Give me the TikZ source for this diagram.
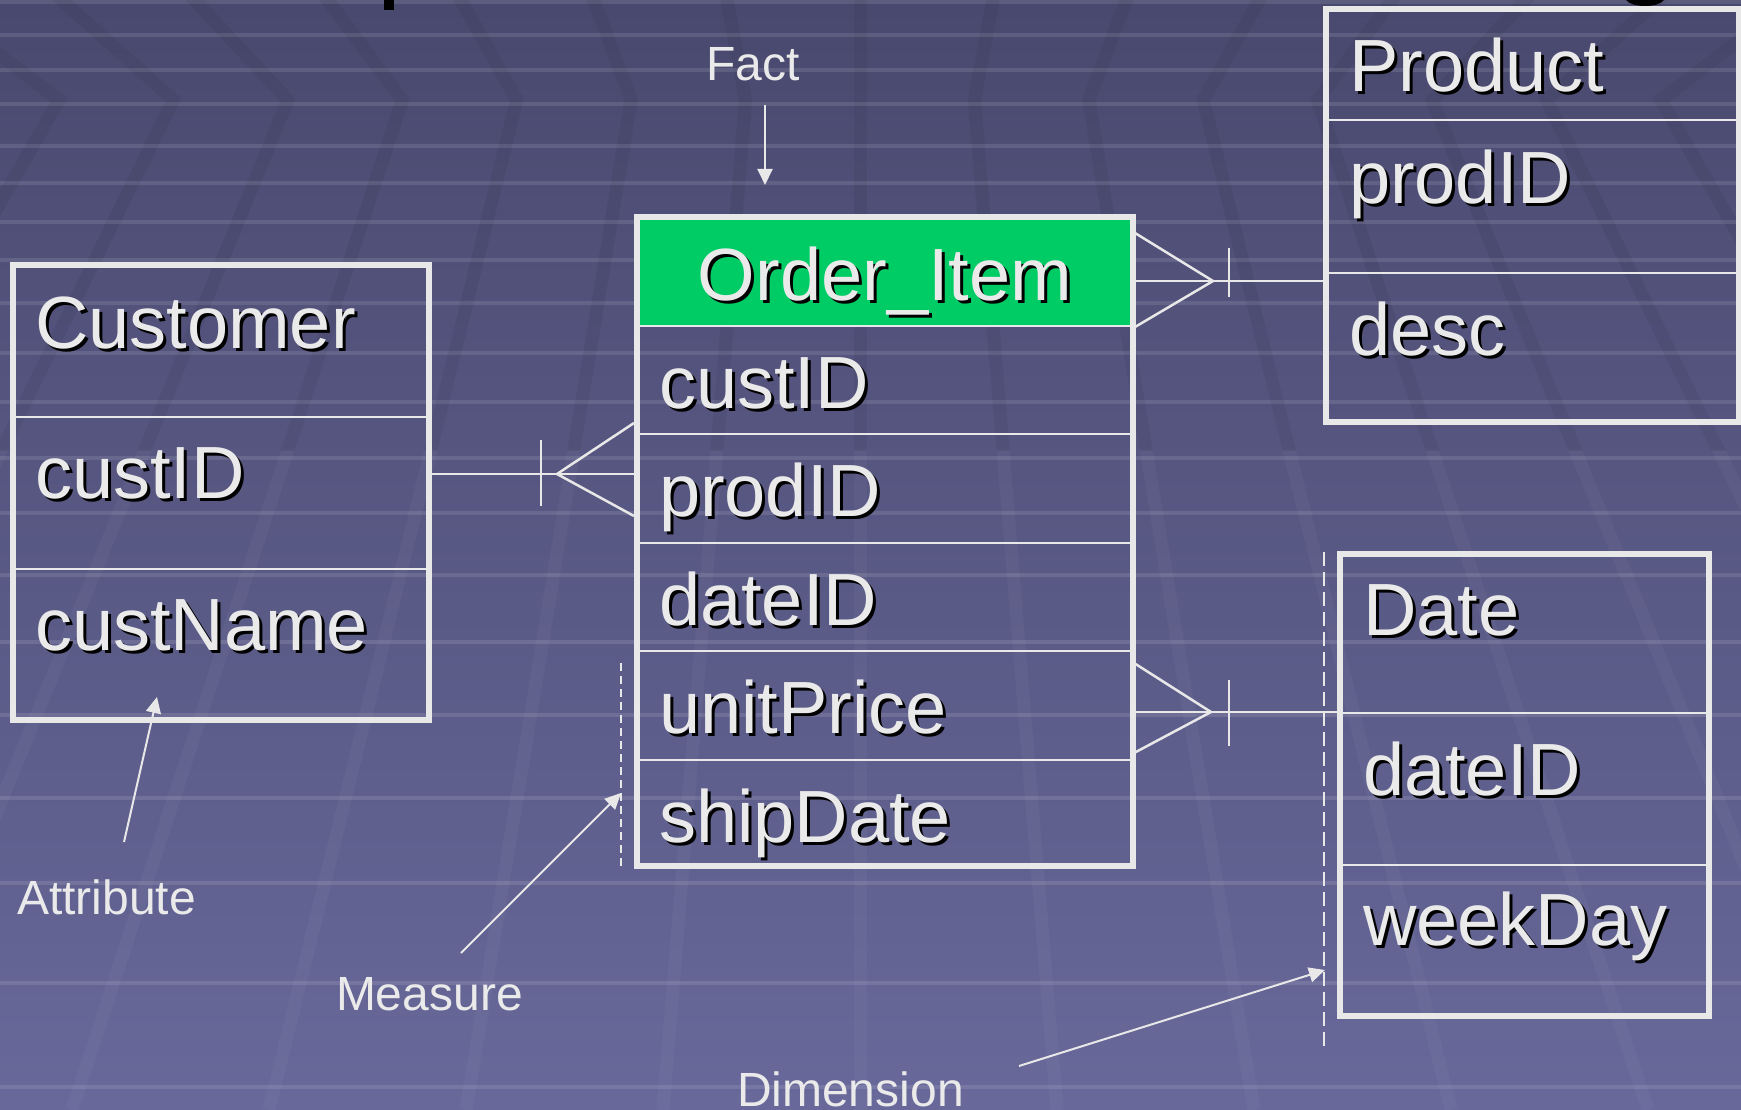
\documentclass[tikz,border=0pt]{standalone}
\usepackage{fontspec}
\setmainfont{Liberation Sans}
\usetikzlibrary{arrows.meta}
\definecolor{bgtop}{RGB}{73,73,111}
\definecolor{bgmid}{RGB}{86,86,128}
\definecolor{bgbot}{RGB}{104,104,154}
\definecolor{txtc}{RGB}{234,234,234}
\definecolor{linec}{RGB}{232,232,232}
\definecolor{factgreen}{RGB}{0,204,102}
\newcommand{\bigfont}{\fontsize{74}{80}\selectfont}
\newcommand{\lblfont}{\fontsize{48}{52}\selectfont}
\newcommand{\ertext}[4]{%
  \node[shadowtxt] at (#2,#3) {#4};
  \node[boxtxt] (#1) at (#2,#3) {#4};}
\begin{document}
\begin{tikzpicture}[x=1pt,y=-1pt,
  box/.style={draw=linec, line width=6pt, rectangle, inner sep=0pt, outer sep=0pt, anchor=north west},
  divider/.style={draw=linec, line width=2.5pt},
  conn/.style={draw=linec, line width=2.5pt},
  boxtxt/.style={anchor=base west, inner sep=0pt, outer sep=0pt, font=\bigfont, text=txtc},
  shadowtxt/.style={boxtxt, text=black, xshift=3pt, yshift=-3pt},
  lbl/.style={anchor=base west, inner sep=0pt, outer sep=0pt, font=\lblfont, text=txtc},
  pointer/.style={draw=linec, line width=2pt, -{Triangle[length=16pt,width=15pt]}},
  dashline/.style={draw=linec, line width=2pt, dash pattern=on 8pt off 5pt},
  stripe/.style={white, opacity=0.11, line width=4pt},
]
\useasboundingbox (0,0) rectangle (1741,1110);
% ---------- background ----------
\shade[top color=bgtop, middle color=bgmid, bottom color=bgbot] (0,0) rectangle (1741,1110);
\foreach \yy in {2,35,70,104,146,183,222,260,303,353,402,458,513,575,642,715,798,883,983,1087}
  \draw[stripe] (0,\yy) -- (1741,\yy);
\begin{scope}
  \clip (0,0) rectangle (1741,450);
  \foreach \k in {-8,...,8}{
    \pgfmathsetmacro{\dd}{197*\k}
    \draw[black, opacity=0.05, line width=13pt] ({860+0.685*\dd},-10) -- ({860+0.5809*\dd},100) -- ({860+\dd},1110);
  }
\end{scope}
\begin{scope}
  \clip (0,450) rectangle (1741,1110);
  \foreach \k in {-8,...,8}{
    \pgfmathsetmacro{\dd}{197*\k}
    \draw[white, opacity=0.035, line width=13pt] ({860+0.685*\dd},-10) -- ({860+0.5809*\dd},100) -- ({860+\dd},1110);
  }
\end{scope}
% cut-off title fragments
\fill[black] (384,0) rectangle (394,10);
\fill[black] (1626,0) .. controls (1632,8) and (1658,8) .. (1664,0) -- cycle;
% ---------- Customer ----------
\node[box, minimum width=416pt, minimum height=455pt] (custbox) at (13,265) {};
\draw[divider] (13,417) -- (429,417);
\draw[divider] (13,569) -- (429,569);
\ertext{custT}{35}{348}{Customer}
\ertext{custA}{35}{498}{custID}
\ertext{custB}{35}{650}{custName}
% ---------- Order_Item ----------
\fill[factgreen] (637,217) rectangle (1133,326);
\node[box, minimum width=496pt, minimum height=649pt] (oibox) at (637,217) {};
\foreach \yy in {326,434,543,651,760}
  \draw[divider] (637,\yy) -- (1133,\yy);
\node[boxtxt, anchor=base, text=black, xshift=3pt, yshift=-3pt] at (885,300) {Order\_Item};
\node[boxtxt, anchor=base] (oiT) at (885,300) {Order\_Item};
\ertext{oiA}{659}{408}{custID}
\ertext{oiB}{659}{516}{prodID}
\ertext{oiC}{659}{625}{dateID}
\ertext{oiD}{659}{733}{unitPrice}
\ertext{oiE}{659}{842}{shipDate}
% ---------- Product ----------
\node[box, minimum width=413pt, minimum height=413pt] (prodbox) at (1326,9) {};
\draw[divider] (1326,120) -- (1739,120);
\draw[divider] (1326,273) -- (1739,273);
\ertext{prodT}{1349}{92}{Product}
\ertext{prodA}{1349}{204}{prodID}
\ertext{prodB}{1349}{355}{desc}
% ---------- Date ----------
\node[box, minimum width=369pt, minimum height=462pt] (datebox) at (1340,554) {};
\draw[divider] (1340,713) -- (1709,713);
\draw[divider] (1340,865) -- (1709,865);
\ertext{dateT}{1363}{635}{Date}
\ertext{dateA}{1363}{795}{dateID}
\ertext{dateB}{1363}{945}{weekDay}
% ---------- relationships ----------
\coordinate (rowL) at (0,474);
\coordinate (apexL) at (557,474);
\coordinate (footL1) at (634,423);
\coordinate (footL2) at (634,516);
\draw[conn] (custbox.east |- rowL) -- (oibox.west |- rowL);
\draw[conn] (footL1) -- (apexL) -- (footL2);
\draw[conn] (541,440) -- (541,506);

\coordinate (rowP) at (0,281);
\coordinate (apexP) at (1213,281);
\coordinate (footP1) at (1135,233);
\coordinate (footP2) at (1135,327);
\draw[conn] (oibox.east |- rowP) -- (prodbox.west |- rowP);
\draw[conn] (footP1) -- (apexP) -- (footP2);
\draw[conn] (1229,248) -- (1229,297);

\coordinate (rowD) at (0,712);
\coordinate (apexD) at (1211,712);
\coordinate (footD1) at (1134,663);
\coordinate (footD2) at (1134,753);
\draw[conn] (oibox.east |- rowD) -- (datebox.west |- rowD);
\draw[conn] (footD1) -- (apexD) -- (footD2);
\draw[conn] (1229,680) -- (1229,746);
% ---------- dashed brackets ----------
\coordinate (measTop) at (621,663);
\coordinate (measBot) at (621,868);
\draw[dashline] (measTop) -- (measBot);
\coordinate (dimTop) at (1324,552);
\coordinate (dimBot) at (1324,1049);
\draw[dashline, line width=2.5pt, dash pattern=on 14pt off 6pt] (dimTop) -- (dimBot);
% ---------- labels ----------
\node[lbl] (factL) at (706,81) {Fact};
\node[lbl] (attrL) at (17,914) {Attribute};
\node[lbl] (measL) at (336,1010) {Measure};
\node[lbl] (dimL) at (737,1106) {Dimension};
\coordinate (factS) at (765,105);
\coordinate (factE) at (765,185);
\draw[pointer] (factS) -- (factE);
\coordinate (attrS) at (124,842);
\coordinate (attrE) at (157,697);
\draw[pointer] (attrS) -- (attrE);
\coordinate (measS) at (461,953);
\coordinate (measE) at (621,793);
\draw[pointer] (measS) -- (measE);
\coordinate (dimS) at (1019,1066);
\coordinate (dimE) at (1325,970);
\draw[pointer] (dimS) -- (dimE);
\end{tikzpicture}
\end{document}
